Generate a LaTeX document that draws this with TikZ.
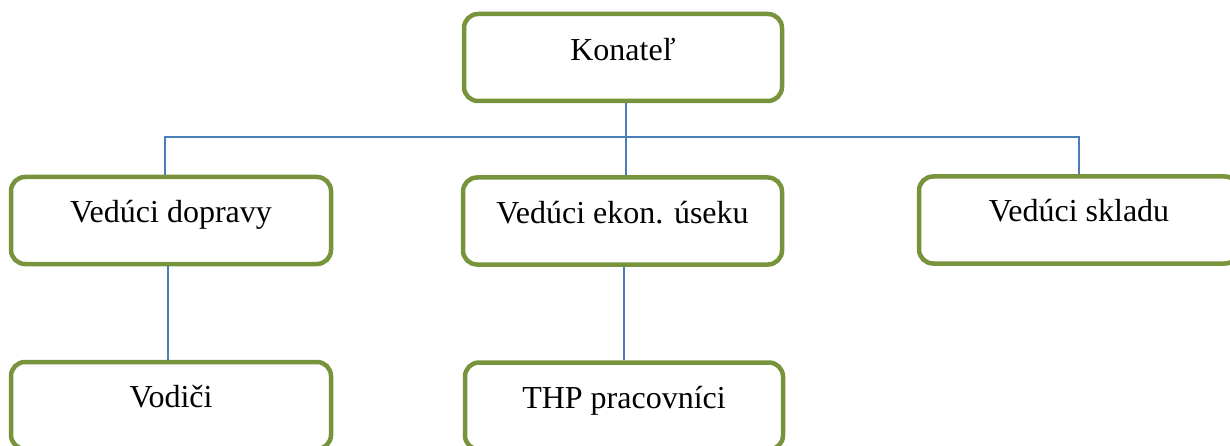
\documentclass[tikz,border=0pt]{standalone}
\usepackage{fontspec}
\setmainfont{Liberation Serif}
\definecolor{boxgreen}{RGB}{119,147,60}
\definecolor{linkblue}{RGB}{74,126,187}
\begin{document}
\begin{tikzpicture}[x=1pt,y=-1pt,
  orgbox/.style={draw=boxgreen, line width=4.5pt, rounded corners=14pt, fill=white,
    minimum height=87pt, inner sep=0pt, text height=28pt, text depth=23pt,
    font=\fontsize{32}{38}\selectfont},
  conn/.style={draw=linkblue, line width=2pt}]
\useasboundingbox (0,0) rectangle (1230,446);
\clip (0,0) rectangle (1230,446);
\node[orgbox, minimum width=318pt, text height=30pt] (kon) at (623,57.5) {Konateľ};
\node[orgbox, minimum width=320pt] (dop) at (171,220.5) {Vedúci dopravy};
\node[orgbox, minimum width=319pt] (eko) at (622.5,221) {Vedúci ekon. úseku};
\node[orgbox, minimum width=320pt, text height=27pt] (skl) at (1079,220) {Vedúci skladu};
\node[orgbox, minimum width=320pt, text height=27pt] (vod) at (171,405.5) {Vodiči};
\node[orgbox, minimum width=318pt, text height=27pt] (thp) at (624,406) {THP pracovníci};
\coordinate (hb) at (626,137);
\begin{scope}[on background layer/.style={}]
\end{scope}
\draw[conn] ([xshift=3pt]kon.south) -- ([xshift=3.5pt]eko.north);
\draw[conn] ([xshift=-6pt]dop.north) |- (hb) -| (skl.north);
\draw[conn] ([xshift=-3pt]dop.south) -- ([xshift=-3pt]vod.north);
\draw[conn] (thp.north |- eko.south) -- (thp.north);
\end{tikzpicture}
\end{document}
